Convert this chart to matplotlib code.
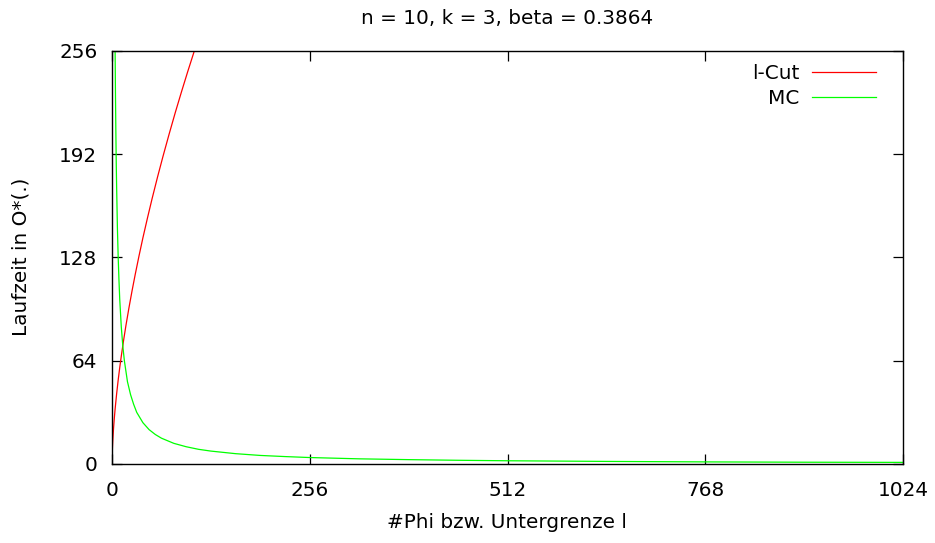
import matplotlib
matplotlib.use("Agg")
import matplotlib.pyplot as plt

# l-Cut (red)
lcut_x = [0, 0.5, 1, 2, 3, 4, 6, 8, 10, 12, 15, 18, 22, 26, 30, 35, 40, 46, 52,
          59, 66, 74, 82, 90, 98, 106, 112]
lcut_y = [0, 9.5, 14.5, 22.2, 28.5, 34.0, 43.6, 52.1, 59.8, 66.8, 76.7, 85.8, 97.0,
          107.5, 117.4, 129.1, 140.2, 152.7, 164.7, 178.0, 190.7, 204.6, 218.0,
          230.8, 243.2, 255.2, 264.1]

# MC (green)
mc_x = [3.6, 4, 4.5, 5, 5.5, 6, 7, 8, 9, 10, 12, 14, 16, 20, 24, 28, 32, 40, 48, 56,
        64, 80, 96, 112, 128, 160, 192, 224, 256, 320, 384, 448, 512, 640, 768, 896, 1024]
mc_y = [284, 256, 228, 205, 186, 171, 146, 128, 114, 102, 85, 73, 64, 51, 43, 37, 32,
        25.6, 21.3, 18.3, 16, 12.8, 10.7, 9.1, 8, 6.4, 5.3, 4.6, 4, 3.2, 2.7, 2.3, 2,
        1.6, 1.3, 1.1, 1.0]

xticks = [0, 256, 512, 768, 1024]
yticks = [0, 64, 128, 192, 256]

FS = 14.4

fig = plt.figure(figsize=(9.35, 5.43), dpi=100)
ax = fig.add_axes([0.1198, 0.1455, 0.8460, 0.7606])

ax.plot(lcut_x, lcut_y, color="#ff0000", lw=0.9, label="l-Cut")
ax.plot(mc_x, mc_y, color="#00ff00", lw=0.9, label="MC")

ax.set_xlim(0, 1024)
ax.set_ylim(0, 256)
ax.set_xticks(xticks)
ax.set_yticks(yticks)
ax.tick_params(direction="in", length=7, width=0.9, labelsize=FS,
               top=True, right=True, colors="black")
ax.tick_params(axis="y", pad=10.5)
ax.tick_params(axis="x", pad=12)
for s in ax.spines.values():
    s.set_linewidth(1.0)

fig.text(507 / 935, 1 - 18 / 543, "n = 10, k = 3, beta = 0.3864",
         fontsize=FS, ha="center", va="center")
fig.text(507 / 935, 1 - 523 / 543, "#Phi bzw. Untergrenze l",
         fontsize=FS, ha="center", va="center")
fig.text(21 / 935, 1 - 257 / 543, "Laufzeit in O*(.)",
         fontsize=FS, ha="center", va="center", rotation=90)

ax.legend(loc="upper right", frameon=False, markerfirst=False, fontsize=FS,
          handlelength=3.2, handletextpad=0.65, labelspacing=0.3,
          borderpad=0, borderaxespad=0, bbox_to_anchor=(0.9659, 0.9686))

fig.savefig("out.png", dpi=100)
